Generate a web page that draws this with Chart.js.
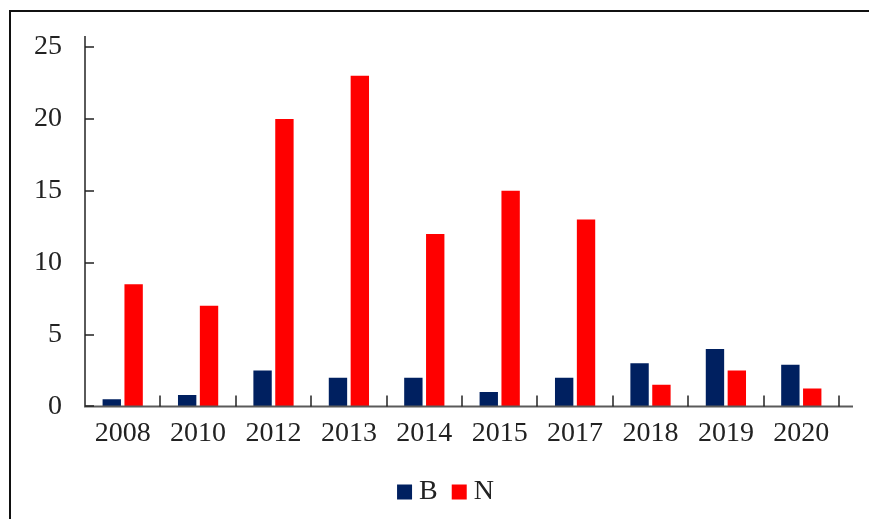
<!DOCTYPE html>
<html>
<head>
<meta charset="utf-8">
<script src="https://cdn.jsdelivr.net/npm/chart.js@4/dist/chart.umd.min.js"></script>
<style>
  html, body { margin: 0; padding: 0; background: #ffffff; }
  #wrap { width: 869px; height: 519px; position: relative; }
</style>
</head>
<body>
<div id="wrap"><canvas id="c" width="869" height="519"></canvas></div>
<script>
const categories = ['2008', '2010', '2012', '2013', '2014', '2015', '2017', '2018', '2019', '2020'];
const seriesB = [0.5, 0.8, 2.5, 2, 2, 1, 2, 3, 4, 2.9];
const seriesN = [8.5, 7, 20, 23, 12, 15, 13, 1.5, 2.5, 1.25];
const yTickValues = [0, 5, 10, 15, 20, 25];

const FONT = "'Liberation Serif', 'Times New Roman', serif";

const framePlugin = {
  id: 'frame',
  beforeDraw(chart) {
    const ctx = chart.ctx;
    ctx.save();
    ctx.strokeStyle = '#111';
    ctx.lineWidth = 2;
    ctx.beginPath();
    ctx.moveTo(chart.width, 11);
    ctx.lineTo(10, 11);
    ctx.lineTo(10, chart.height);
    ctx.stroke();
    ctx.restore();
  }
};

const legendShift = {
  id: 'legendShift',
  afterLayout(chart) {
    const lg = chart.legend;
    if (!lg) return;
    lg.left += 24; lg.right += 24;
    lg.top -= 3; lg.bottom -= 3;
  }
};

const axesPlugin = {
  id: 'axesCustom',
  afterDatasetsDraw(chart) {
    const ctx = chart.ctx;
    const x = chart.scales.x, y = chart.scales.y;
    const a = chart.chartArea;
    ctx.save();
    ctx.strokeStyle = '#5a5a5a';
    ctx.lineWidth = 2;
    ctx.beginPath();
    ctx.moveTo(a.left, a.top - 11);
    ctx.lineTo(a.left, a.bottom);
    ctx.lineTo(a.right + 14, a.bottom);
    ctx.stroke();
    ctx.strokeStyle = '#222';
    ctx.lineWidth = 1.5;
    ctx.beginPath();
    yTickValues.forEach(v => {
      const py = Math.round(y.getPixelForValue(v));
      ctx.moveTo(a.left, py);
      ctx.lineTo(a.left + 9, py);
    });
    const n = categories.length;
    for (let i = 1; i <= n; i++) {
      let px;
      if (i < n) px = (x.getPixelForValue(i - 1) + x.getPixelForValue(i)) / 2;
      else px = a.right;
      px = Math.round(px);
      ctx.moveTo(px, a.bottom);
      ctx.lineTo(px, a.bottom - 11);
    }
    ctx.stroke();
    ctx.restore();
  }
};

new Chart(document.getElementById('c'), {
  type: 'bar',
  data: {
    labels: categories,
    datasets: [
      { label: 'B', data: seriesB, backgroundColor: '#002060', borderWidth: 0,
        categoryPercentage: 0.58, barPercentage: 0.84 },
      { label: 'N', data: seriesN, backgroundColor: '#ff0000', borderWidth: 0,
        categoryPercentage: 0.58, barPercentage: 0.84 }
    ]
  },
  plugins: [framePlugin, axesPlugin, legendShift],
  options: {
    responsive: false,
    animation: false,
    devicePixelRatio: 1,
    layout: { padding: { left: 11, right: 30, top: 47, bottom: 0 } },
    scales: {
      x: {
        grid: { display: false, drawTicks: false },
        border: { display: false },
        ticks: { color: '#222', font: { family: FONT, size: 28 }, padding: 10, maxRotation: 0 }
      },
      y: {
        min: 0, max: 25,
        grid: { display: false, drawTicks: false },
        border: { display: false },
        afterBuildTicks(scale) { scale.ticks = yTickValues.map(v => ({ value: v })); },
        ticks: { color: '#222', font: { family: FONT, size: 28 }, padding: 23 }
      }
    },
    plugins: {
      legend: {
        position: 'bottom',
        labels: {
          color: '#222',
          font: { family: FONT, size: 28 },
          usePointStyle: true,
          pointStyle: 'rect',
          boxWidth: 1,
          boxHeight: 15,
          padding: 21
        }
      },
      tooltip: { enabled: false }
    }
  }
});
</script>
</body>
</html>
